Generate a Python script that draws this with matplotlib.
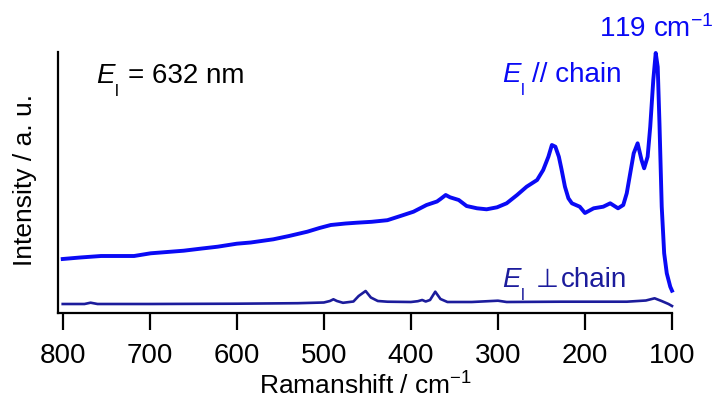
import matplotlib
matplotlib.use("Agg")
import matplotlib.pyplot as plt

# ---- data ----
shift_par = [800, 780, 756, 718, 699, 680, 661, 640, 622, 600, 584, 558, 540, 519,
             505, 492, 475, 462, 445, 427, 412, 397, 382, 370, 366, 360, 355, 345,
             336, 324, 313, 301, 290, 278, 267, 255, 248, 242, 238, 234, 230, 227,
             223, 219, 215, 206, 200, 190, 179, 171, 162, 156, 152, 148, 144, 139.5,
             135, 132, 128, 125, 121.5, 118.7, 116.4, 114.4, 111.8, 109, 106, 102, 100]
int_par = [45, 46.5, 48, 48, 50.7, 52, 53.3, 55.5, 57.3, 60.3, 61.5, 64.7, 68, 72.3,
           76, 79, 80.5, 81.3, 82.2, 83.8, 88, 92.3, 99, 102.5, 105, 109, 106.7, 104,
           98, 95.7, 94.7, 96.7, 100.7, 109, 117.3, 124, 134, 147.3, 159, 157.3, 147.3, 135,
           117.3, 105.7, 100.7, 97.3, 91, 95.7, 97.3, 100.7, 95.7, 99, 110.7, 130.7, 150.7, 160.7,
           144, 135.7, 147.3, 177.3, 224, 251, 237, 180.7, 97.3, 50.7, 30.7, 17.3, 13.3]

shift_perp = [800, 775, 768, 760, 700, 600, 530, 500, 493, 489, 485, 478, 466, 460,
              452, 446, 438, 427, 400, 392, 387, 383, 378, 372, 366, 358, 330, 300,
              290, 228, 152, 130, 120, 112, 104, 100]
int_perp = [0, 0, 1.3, 0, 0, 0.3, 0.8, 1.5, 3, 4.7, 3, 1.2, 2.5, 8,
            13, 6.5, 3, 2.3, 2, 2.8, 4, 2.5, 4, 12.3, 5, 2, 2, 3.3,
            2, 2.3, 2.3, 3.5, 5.7, 3, 0, -2]

xticks = [800, 700, 600, 500, 400, 300, 200, 100]

# ---- style ----
plt.rcParams['font.family'] = ['Liberation Sans', 'DejaVu Sans']
plt.rcParams['mathtext.fontset'] = 'custom'
plt.rcParams['mathtext.rm'] = 'Liberation Sans'
plt.rcParams['mathtext.it'] = 'Liberation Sans:italic'

W, H = 715, 403
fig = plt.figure(figsize=(W / 100, H / 100), dpi=100)

def fx(px):
    return px / W

def fy(py):
    return 1 - py / H

ax = fig.add_axes([fx(57.5), fy(313), fx(672) - fx(57.5), fy(52) - fy(313)])

blue = '#0a0af5'
dark = '#1c1c9c'
ax.plot(shift_par, int_par, color=blue, lw=2.8, clip_on=False,
        solid_joinstyle='round')
ax.plot(shift_perp, int_perp, color=dark, lw=1.9, clip_on=False,
        solid_joinstyle='round')

ax.set_xlim(806, 100)
ax.set_ylim(-9, 252)
ax.set_xticks(xticks)
ax.set_xticklabels([str(t) for t in xticks])
ax.set_yticks([])
for s in ['top', 'right']:
    ax.spines[s].set_visible(False)
for s in ['left', 'bottom']:
    ax.spines[s].set_linewidth(1.6)
    ax.spines[s].set_color('black')
ax.tick_params(axis='x', direction='out', length=12.5, width=1.6, pad=9,
               labelsize=20)

fig.text(fx(365), fy(395), 'Ramanshift / cm$^{-1}$', ha='center', va='baseline',
         fontsize=19)
fig.text(fx(25), fy(180), 'Intensity / a. u.', rotation=90, ha='center',
         va='center', fontsize=19)


def e_label(x, y, rest, color, rest_dx=32, rest_family=None, rest_size=20):
    fig.text(fx(x), fy(y), 'E', ha='left', va='baseline', fontsize=20,
             style='italic', color=color)
    fig.text(fx(x + 19), fy(y + 13), 'l', ha='left', va='baseline',
             fontsize=12, color=color)
    kw = {}
    if rest_family:
        kw['family'] = rest_family
    fig.text(fx(x + rest_dx), fy(y), rest, ha='left', va='baseline',
             fontsize=rest_size, color=color, **kw)


e_label(96, 83, '= 632 nm', 'black', rest_dx=32)
e_label(502, 82, '// chain', blue, rest_dx=30)
e_label(502, 287, '\u22A5', dark, rest_dx=34, rest_family=['DejaVu Sans'],
        rest_size=19)
fig.text(fx(561), fy(287), 'chain', ha='left', va='baseline',
         fontsize=20, color=dark)
fig.text(fx(599), fy(37), '119 cm$^{\u2212 1}$', ha='left', va='baseline',
         fontsize=20, color=blue)

fig.savefig('out.png', dpi=100)
